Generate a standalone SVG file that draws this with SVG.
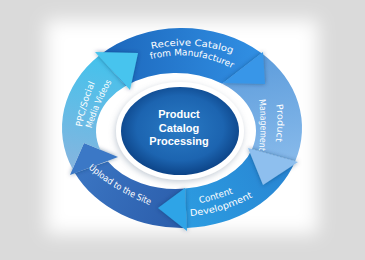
<svg xmlns="http://www.w3.org/2000/svg" width="365" height="260" viewBox="0 0 365 260">
<defs>
<filter id="bgblur" x="-20%" y="-20%" width="140%" height="140%"><feGaussianBlur stdDeviation="9"/></filter>
<filter id="hs" x="-40%" y="-40%" width="180%" height="180%"><feDropShadow dx="0" dy="0" stdDeviation="2" flood-color="#0b2e5c" flood-opacity="0.5"/></filter>
<filter id="halo" x="-20%" y="-20%" width="140%" height="140%"><feDropShadow dx="-1" dy="2" stdDeviation="3" flood-color="#7d8ea3" flood-opacity="0.45"/></filter>
<linearGradient id="gPPC" gradientUnits="userSpaceOnUse" x1="85" y1="172" x2="110" y2="58"><stop offset="0" stop-color="#86b5df"/><stop offset="1" stop-color="#43c2ec"/></linearGradient>
<linearGradient id="gRec" gradientUnits="userSpaceOnUse" x1="100" y1="60" x2="262" y2="60"><stop offset="0" stop-color="#1c66bb"/><stop offset="1" stop-color="#3190e4"/></linearGradient>
<linearGradient id="gPM" gradientUnits="userSpaceOnUse" x1="265" y1="55" x2="285" y2="160"><stop offset="0" stop-color="#5e9ddc"/><stop offset="1" stop-color="#86b9ea"/></linearGradient>
<linearGradient id="gCD" gradientUnits="userSpaceOnUse" x1="292" y1="162" x2="188" y2="226"><stop offset="0" stop-color="#2884d2"/><stop offset="1" stop-color="#2c9ce1"/></linearGradient>
<linearGradient id="gUp" gradientUnits="userSpaceOnUse" x1="186" y1="226" x2="78" y2="170"><stop offset="0" stop-color="#2a5caa"/><stop offset="1" stop-color="#3b75c2"/></linearGradient>
<radialGradient id="gCtr" cx="180" cy="128" r="62" gradientUnits="userSpaceOnUse" gradientTransform="translate(180 128) scale(1 0.75) translate(-180 -128)"><stop offset="0" stop-color="#2a7bc5"/><stop offset="0.7" stop-color="#1c64b0"/><stop offset="1" stop-color="#0d4589"/></radialGradient>
<path id="tp1" d="M152,49 Q192,40.25 232,53.3"/>
<path id="tp2" d="M151,59.3 Q191.5,48.2 232,68.3"/>
<path id="tp3" d="M276,104 Q279.25,123 275.5,142"/>
<path id="tp4" d="M259,100 Q262,125 259,150"/>
<path id="tp5" d="M200,203.3 Q216.5,199.5 233,193.3"/>
<path id="tp6" d="M190,216 Q221.7,213.7 253.3,196.7"/>
<path id="tp7" d="M88.3,168.3 Q114.8,191.3 150,205"/>
<path id="tp8" d="M82,127 Q85.5,105 95,83"/>
<path id="tp9" d="M91.7,128.3 Q98.3,105 111.7,81.7"/>
</defs>
<style>
.lbl{font-family:"DejaVu Sans",Verdana,sans-serif;font-size:9px;fill:#ffffff;text-anchor:middle}
.ctr{font-family:"Liberation Sans",Arial,sans-serif;font-size:11px;font-weight:bold;fill:#ffffff;text-anchor:middle}
.head{filter:url(#hs)}
</style>
<rect width="365" height="260" fill="#dadada"/>
<rect x="46" y="20" width="272" height="214" fill="#ffffff" filter="url(#bgblur)"/>

<g id="connectors"></g>

<g id="stage-upload">
<path d="M186.8,227.9 A120,100 0 0 1 74.8,172.9 L107.9,161.5 A80,58 0 0 0 185.1,188.6 Z" fill="url(#gUp)"/>
<polygon class="head" points="70,175 84,143 118,157" fill="#3b78c6"/>
<text class="lbl"><textPath href="#tp7" startOffset="50%" textLength="72" lengthAdjust="spacingAndGlyphs">Upload to the Site</textPath></text>
</g>

<g id="stage-content">
<path d="M295.2,161.2 A120,100 0 0 1 186.8,227.9 L185.1,188.6 A80,58 0 0 0 252.1,148.9 Z" fill="url(#gCD)"/>
<polygon class="head" points="187,231 158,208 185,188" fill="#2ea4e7"/>
<text class="lbl"><textPath href="#tp5" startOffset="50%" textLength="35" lengthAdjust="spacingAndGlyphs">Content</textPath></text>
<text class="lbl"><textPath href="#tp6" startOffset="50%" textLength="66" lengthAdjust="spacingAndGlyphs">Development</textPath></text>
</g>

<g id="stage-product-mgmt">
<path d="M261.7,53.2 A120,100 0 0 1 295.2,161.2 L252.1,148.9 A80,58 0 0 0 222.3,83.7 Z" fill="url(#gPM)"/>
<polygon class="head" points="298,162 263,185 248,148" fill="#8ebfee"/>
<text class="lbl"><textPath href="#tp3" startOffset="50%" textLength="37" lengthAdjust="spacingAndGlyphs">Product</textPath></text>
<text class="lbl"><textPath href="#tp4" startOffset="50%" textLength="51" lengthAdjust="spacingAndGlyphs">Management</textPath></text>
</g>

<g id="stage-receive">
<path d="M99.2,55.6 A120,100 0 0 1 261.7,53.2 L222.3,83.7 A80,58 0 0 0 125.5,86 Z" fill="url(#gRec)"/>
<polygon class="head" points="263,52 265,84 223,83" fill="#3896e8"/>
<text class="lbl"><textPath href="#tp1" startOffset="50%" textLength="82" lengthAdjust="spacingAndGlyphs">Receive Catalog</textPath></text>
<text class="lbl"><textPath href="#tp2" startOffset="50%" textLength="84" lengthAdjust="spacingAndGlyphs">from Manufacturer</textPath></text>
</g>

<g id="stage-ppc">
<path d="M72.6,169.1 A120,100 0 0 1 99.2,55.6 L125.5,86 A80,58 0 0 0 100.3,149.7 L84,143 Z" fill="url(#gPPC)"/>
<polygon class="head" points="95,52 138,53 130,90" fill="#46c4ee"/>
<text class="lbl"><textPath href="#tp8" startOffset="50%" textLength="46" lengthAdjust="spacingAndGlyphs">PPC/Social</textPath></text>
<text class="lbl"><textPath href="#tp9" startOffset="50%" textLength="51" lengthAdjust="spacingAndGlyphs">Media Videos</textPath></text>
</g>

<g id="center">
<ellipse cx="180" cy="131" rx="64" ry="49" fill="#ffffff" filter="url(#halo)"/>
<ellipse cx="180" cy="131" rx="59" ry="44" fill="url(#gCtr)"/>
<text class="ctr" x="179" y="118.3">Product</text>
<text class="ctr" x="179" y="131.7">Catalog</text>
<text class="ctr" x="179" y="145">Processing</text>
</g>
</svg>
